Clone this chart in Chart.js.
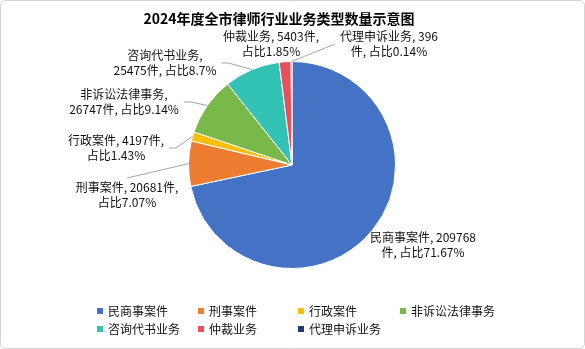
<!DOCTYPE html>
<html lang="zh-CN">
<head>
<meta charset="utf-8">
<title>2024年度全市律师行业业务类型数量示意图</title>
<script src="https://cdn.jsdelivr.net/npm/chart.js@4.4.1/dist/chart.umd.min.js"></script>
<style>
    html, body { margin: 0; padding: 0; background: #fff; }
    #wrap { width: 585px; height: 349px; position: relative; }
</style>
</head>
<body>
<div id="wrap"><canvas id="typeChart"></canvas></div>
<script>
const titleText = '2024年度全市律师行业业务类型数量示意图';
const categories = ['民商事案件', '刑事案件', '行政案件', '非诉讼法律事务', '咨询代书业务', '仲裁业务', '代理申诉业务'];
const counts = [209768, 20681, 4197, 26747, 25475, 5403, 396];
const shares = ['71.67', '7.07', '1.43', '9.14', '8.7', '1.85', '0.14'];
const colors = ['#4472C4', '#ED7D31', '#F7BE0A', '#78B94A', '#33C3B5', '#E8505E', '#1F3D73'];

// label block centre relative to the pie centre, chars on line one, and which side the leader joins
const labelPlacement = [
    { dx: 131, dy: 80, wrap: 13, side: null },
    { dx: -165, dy: 30, wrap: 13, side: 'top' },
    { dx: -176, dy: -17, wrap: 12, side: 'right' },
    { dx: -168, dy: -63, wrap: 8, side: 'right' },
    { dx: -127, dy: -102, wrap: 7, side: 'right' },
    { dx: -21, dy: -121, wrap: 12, side: null },
    { dx: 97, dy: -121, wrap: 11, side: 'left' }
];

const FONT = '"Noto Sans CJK SC", "Noto Sans", sans-serif';

const labelLines = (i) => {
    const text = `${categories[i]}, ${counts[i]}件, 占比${shares[i]}%`;
    const cut = labelPlacement[i].wrap;
    return [text.slice(0, cut).trim(), text.slice(cut).trim()];
};

const frame = {
    id: 'frame',
    beforeDraw(chart) {
        const { ctx, width, height } = chart;
        ctx.save();
        ctx.fillStyle = '#fff';
        ctx.fillRect(0, 0, width, height);
        ctx.strokeStyle = '#d4d4d4';
        ctx.lineWidth = 1;
        ctx.beginPath();
        ctx.roundRect(0.5, 0.5, width - 1, height - 1, 5);
        ctx.stroke();

        ctx.fillStyle = '#000';
        ctx.font = `bold 14px ${FONT}`;
        ctx.textAlign = 'center';
        ctx.textBaseline = 'middle';
        ctx.fillText(titleText, 279, 19);
        ctx.restore();
    }
};

const sliceLabels = {
    id: 'sliceLabels',
    afterDatasetsDraw(chart) {
        const { ctx } = chart;
        const arcs = chart.getDatasetMeta(0).data;
        const lineH = 15;
        ctx.save();
        ctx.font = `12px ${FONT}`;
        ctx.textAlign = 'center';
        ctx.textBaseline = 'middle';

        arcs.forEach((arc, i) => {
            const p = labelPlacement[i];
            const lines = labelLines(i);
            const cx = arc.x + p.dx;
            const cy = arc.y + p.dy;
            const w = Math.max(...lines.map(l => ctx.measureText(l).width));
            const top = cy - lineH;
            const bottom = cy + lineH;

            if (p.side) {
                const mid = (arc.startAngle + arc.endAngle) / 2;
                const ex = arc.x + Math.cos(mid) * arc.outerRadius;
                const ey = arc.y + Math.sin(mid) * arc.outerRadius;
                const pts = [];
                if (p.side === 'top') pts.push([cx, top - 2]);
                if (p.side === 'right') pts.push([cx + w / 2 + 5, cy], [cx + w / 2 + 12, cy]);
                if (p.side === 'left') pts.push([cx - w / 2 - 5, cy]);
                pts.push([ex, ey]);
                ctx.strokeStyle = '#a6a6a6';
                ctx.lineWidth = 1;
                ctx.beginPath();
                pts.forEach(([x, y], k) => k ? ctx.lineTo(x, y) : ctx.moveTo(x, y));
                ctx.stroke();
            }

            ctx.fillStyle = '#111';
            lines.forEach((l, k) => ctx.fillText(l, cx, cy + (k - 0.5) * lineH));
        });
        ctx.restore();
    }
};

// grid legend, four columns
const gridLegend = {
    id: 'gridLegend',
    afterDraw(chart) {
        const { ctx } = chart;
        const colX = [97, 198, 298, 400];
        const rowY = [311, 329];
        ctx.save();
        ctx.font = `12px ${FONT}`;
        ctx.textBaseline = 'middle';
        ctx.textAlign = 'left';
        categories.forEach((name, i) => {
            const x = colX[i % 4];
            const y = rowY[Math.floor(i / 4)];
            ctx.fillStyle = colors[i];
            ctx.fillRect(x, y - 3, 6, 6);
            ctx.fillStyle = '#111';
            ctx.fillText(name, x + 11, y);
        });
        ctx.restore();
    }
};

new Chart(document.getElementById('typeChart'), {
    type: 'pie',
    data: {
        labels: categories,
        datasets: [{
            data: counts,
            backgroundColor: colors,
            borderColor: '#fff',
            borderWidth: 1
        }]
    },
    options: {
        responsive: true,
        maintainAspectRatio: false,
        animation: false,
        layout: { padding: { left: 188, right: 189, top: 61, bottom: 80 } },
        plugins: {
            legend: { display: false },
            title: { display: false },
            tooltip: { enabled: false }
        }
    },
    plugins: [frame, sliceLabels, gridLegend]
});
</script>
</body>
</html>
